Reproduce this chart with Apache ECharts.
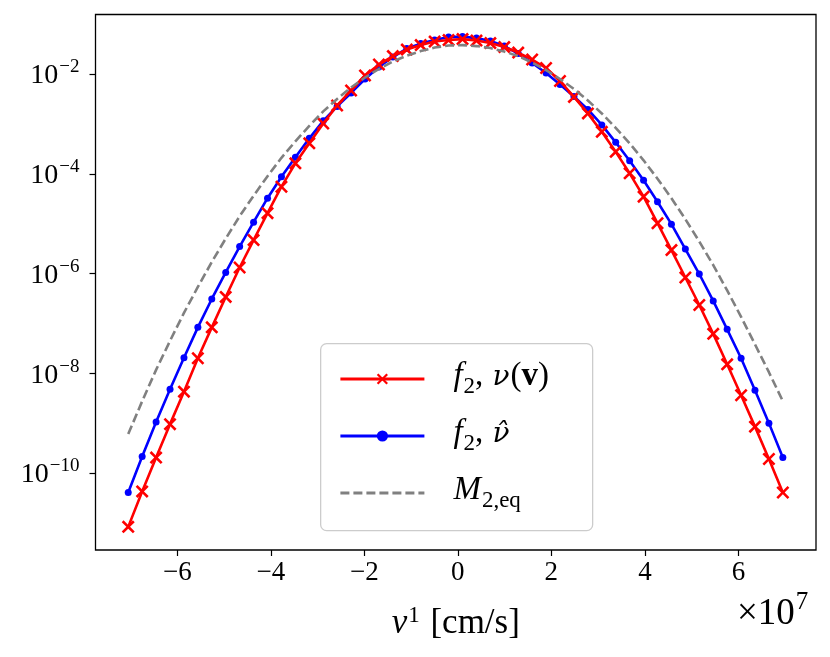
<!DOCTYPE html>
<html>
<head>
<meta charset="utf-8">
<script src="https://cdn.jsdelivr.net/npm/echarts@6/dist/echarts.min.js"></script>
<style>
html,body{margin:0;padding:0;background:#fff;}
#chart{width:830px;height:657px;}
</style>
</head>
<body>
<div id="chart"></div>
<script>
// x grid (units of 1e7 cm/s)
const vGrid = [-7.050,-6.752,-6.454,-6.156,-5.858,-5.561,-5.263,-4.965,-4.667,-4.369,
  -4.071,-3.773,-3.475,-3.177,-2.879,-2.582,-2.284,-1.986,-1.688,-1.390,
  -1.092,-0.794,-0.496,-0.198,0.100,0.398,0.695,0.993,1.291,1.589,
  1.887,2.185,2.483,2.781,3.079,3.376,3.674,3.972,4.270,4.568,
  4.866,5.164,5.462,5.760,6.058,6.355,6.653,6.951];

// f2 with nu(v)
const fNuV = [8.32e-12,4.27e-11,2.04e-10,9.55e-10,4.27e-9,2.00e-8,8.32e-8,3.39e-7,1.32e-6,4.68e-6,
  1.62e-5,5.50e-5,1.62e-4,4.07e-4,1.02e-3,2.34e-3,4.68e-3,9.33e-3,1.55e-2,2.29e-2,
  3.09e-2,3.80e-2,4.47e-2,4.79e-2,5.01e-2,4.68e-2,4.17e-2,3.47e-2,2.69e-2,1.95e-2,
  1.32e-2,7.24e-3,3.47e-3,1.62e-3,6.92e-4,2.75e-4,1.02e-4,3.47e-5,1.02e-5,2.95e-6,
  8.32e-7,2.34e-7,6.17e-8,1.51e-8,3.63e-9,8.51e-10,1.91e-10,4.07e-11];

// f2 with nu-hat
const fNuHat = [4.07e-11,2.14e-10,1.05e-9,4.79e-9,2.04e-8,8.32e-8,3.09e-7,1.05e-6,3.47e-6,1.07e-5,
  3.24e-5,8.71e-5,2.14e-4,5.13e-4,1.15e-3,2.24e-3,4.17e-3,7.94e-3,1.38e-2,2.19e-2,
  3.24e-2,4.07e-2,4.79e-2,5.50e-2,5.62e-2,5.25e-2,4.57e-2,3.63e-2,2.57e-2,1.66e-2,
  1.05e-2,6.17e-3,3.55e-3,1.95e-3,9.55e-4,4.27e-4,1.82e-4,7.41e-5,2.75e-5,9.77e-6,
  3.09e-6,9.77e-7,2.82e-7,7.59e-8,2.00e-8,4.57e-9,1.00e-9,2.04e-10];

// M2,eq
const mEq = [6.03e-10,2.75e-9,1.17e-8,4.47e-8,1.62e-7,5.37e-7,1.70e-6,5.01e-6,1.41e-5,3.63e-5,
  8.91e-5,2.09e-4,4.47e-4,9.12e-4,1.78e-3,3.16e-3,5.37e-3,8.51e-3,1.26e-2,1.78e-2,
  2.34e-2,2.88e-2,3.39e-2,3.72e-2,3.80e-2,3.63e-2,3.31e-2,2.82e-2,2.29e-2,1.70e-2,
  1.20e-2,7.94e-3,5.01e-3,2.95e-3,1.62e-3,8.32e-4,4.07e-4,1.86e-4,7.94e-5,3.24e-5,
  1.23e-5,4.37e-6,1.48e-6,4.57e-7,1.35e-7,3.80e-8,1.05e-8,2.75e-9];

const xTicks = [-6,-4,-2,0,2,4,6];
const yTicks = [1e-10,1e-8,1e-6,1e-4,1e-2];

const FONT = 'Liberation Serif';
const NUFONT = 'DejaVu Serif';
const pair = (xs, ys) => xs.map((x, i) => [x, ys[i]]);
const crossPath = 'path://M0,1.4L1.4,0L5,3.6L8.6,0L10,1.4L6.4,5L10,8.6L8.6,10L5,6.4L1.4,10L0,8.6L3.6,5Z';

const chart = echarts.init(document.getElementById('chart'), null, {renderer: 'canvas'});

const LH = 38;
const legendRich = {
  g: {width: 24, fontSize: 32, fontFamily: FONT, lineHeight: LH},
  i: {fontFamily: FONT, fontStyle: 'italic', fontSize: 33, color: '#000', lineHeight: LH, verticalAlign: 'bottom', padding: [0,0,5,0]},
  nu: {fontFamily: NUFONT, fontStyle: 'italic', fontSize: 28, color: '#000', lineHeight: LH, verticalAlign: 'bottom', padding: [0,1,6,1]},
  n: {fontFamily: FONT, fontSize: 33, color: '#000', lineHeight: LH, verticalAlign: 'bottom', padding: [0,0,5,0]},
  b: {fontFamily: FONT, fontWeight: 'bold', fontSize: 33, color: '#000', lineHeight: LH, verticalAlign: 'bottom', padding: [0,0,5,0]},
  sub: {fontFamily: FONT, fontSize: 23, color: '#000', lineHeight: LH, verticalAlign: 'bottom', padding: [0,0,0,1]}
};
const legendText = {
  'f2nuv': '{g| }{i|f}{sub|2}{n|, }{nu|ν}{n|(}{b|v}{n|)}',
  'f2nuhat': '{g| }{i|f}{sub|2}{n|, }{nu|ν̂}',
  'M2eq': '{g| }{i|M}{sub|2,eq}'
};

const option = {
  backgroundColor: '#fff',
  animation: false,
  grid: {left: 95.5, right: 14, top: 14.5, bottom: 107, show: true, borderColor: '#000', borderWidth: 1.3, backgroundColor: 'transparent'},
  xAxis: {
    type: 'value', min: -7.75, max: 7.66,
    axisLine: {show: false, onZero: false},
    splitLine: {show: false},
    axisTick: {show: true, inside: false, length: 6, lineStyle: {color: '#000', width: 1.2}, customValues: xTicks},
    axisLabel: {
      customValues: xTicks, margin: 9, color: '#000', fontFamily: FONT, fontSize: 27,
      formatter: v => (v < 0 ? '\u2212' + (-v) : '' + v)
    },
    name: '{i|v}{s|1}{n| [cm/s]}',
    nameLocation: 'middle', nameGap: 54,
    nameTextStyle: {
      rich: {
        i: {fontFamily: FONT, fontStyle: 'italic', fontSize: 35, color: '#000', verticalAlign: 'bottom'},
        s: {fontFamily: FONT, fontSize: 23, color: '#000', verticalAlign: 'bottom', padding: [0,2,14,1]},
        n: {fontFamily: FONT, fontSize: 35, color: '#000', verticalAlign: 'bottom'}
      }
    }
  },
  yAxis: {
    type: 'log', logBase: 10, min: 2.86e-12, max: 0.156,
    axisLine: {show: false, onZero: false},
    splitLine: {show: false},
    minorTick: {show: false},
    axisTick: {show: true, inside: false, length: 6, lineStyle: {color: '#000', width: 1.2}, customValues: yTicks},
    axisLabel: {
      customValues: yTicks, margin: 16,
      formatter: v => '{b|10}{s|\u2212' + Math.round(-Math.log10(v)) + '}',
      rich: {
        b: {fontFamily: FONT, fontSize: 28, color: '#000', verticalAlign: 'bottom'},
        s: {fontFamily: FONT, fontSize: 19, color: '#000', verticalAlign: 'bottom', padding: [0,0,13,1]}
      }
    }
  },
  legend: {
    orient: 'vertical', left: 334, top: 355,
    itemWidth: 84, itemHeight: 14, itemGap: 19,
    data: [
      {name: 'f2nuv', lineStyle: {width: 2.8}},
      {name: 'f2nuhat', lineStyle: {width: 2.8}},
      {name: 'M2eq', lineStyle: {width: 2.8}, itemStyle: {opacity: 0}}
    ],
    formatter: name => legendText[name],
    textStyle: {rich: legendRich, color: '#000'},
    selectedMode: false
  },
  graphic: [
    {type: 'rect', left: 320, top: 343, z: 1, silent: true,
      shape: {width: 272, height: 187, r: 6},
      style: {fill: 'rgba(255,255,255,0.8)', stroke: '#cccccc', lineWidth: 1.3}},
    {type: 'text', left: 737, top: 590, z: 10, silent: true,
      style: {
        text: '{n|×10}{s|7}',
        rich: {
          n: {fontFamily: FONT, fontSize: 37, fill: '#000', verticalAlign: 'bottom'},
          s: {fontFamily: FONT, fontSize: 25, fill: '#000', verticalAlign: 'bottom', padding: [0,0,18,1]}
        }
      }}
  ],
  series: [
    {
      name: 'f2nuv', type: 'line', data: pair(vGrid, fNuV), z: 3,
      symbol: crossPath, symbolSize: 13, showAllSymbol: true,
      lineStyle: {color: '#ff0000', width: 2.6},
      itemStyle: {color: '#ff0000'},
      emphasis: {disabled: true}
    },
    {
      name: 'f2nuhat', type: 'line', data: pair(vGrid, fNuHat), z: 2,
      symbol: 'circle', symbolSize: 7, showAllSymbol: true,
      lineStyle: {color: '#0000ff', width: 2.6},
      itemStyle: {color: '#0000ff'},
      emphasis: {disabled: true}
    },
    {
      name: 'M2eq', type: 'line', data: pair(vGrid, mEq), z: 4,
      symbol: 'none',
      lineStyle: {color: '#808080', width: 2.6, type: [9, 4]},
      itemStyle: {color: '#808080'},
      emphasis: {disabled: true}
    }
  ]
};
chart.setOption(option);
</script>
</body>
</html>
